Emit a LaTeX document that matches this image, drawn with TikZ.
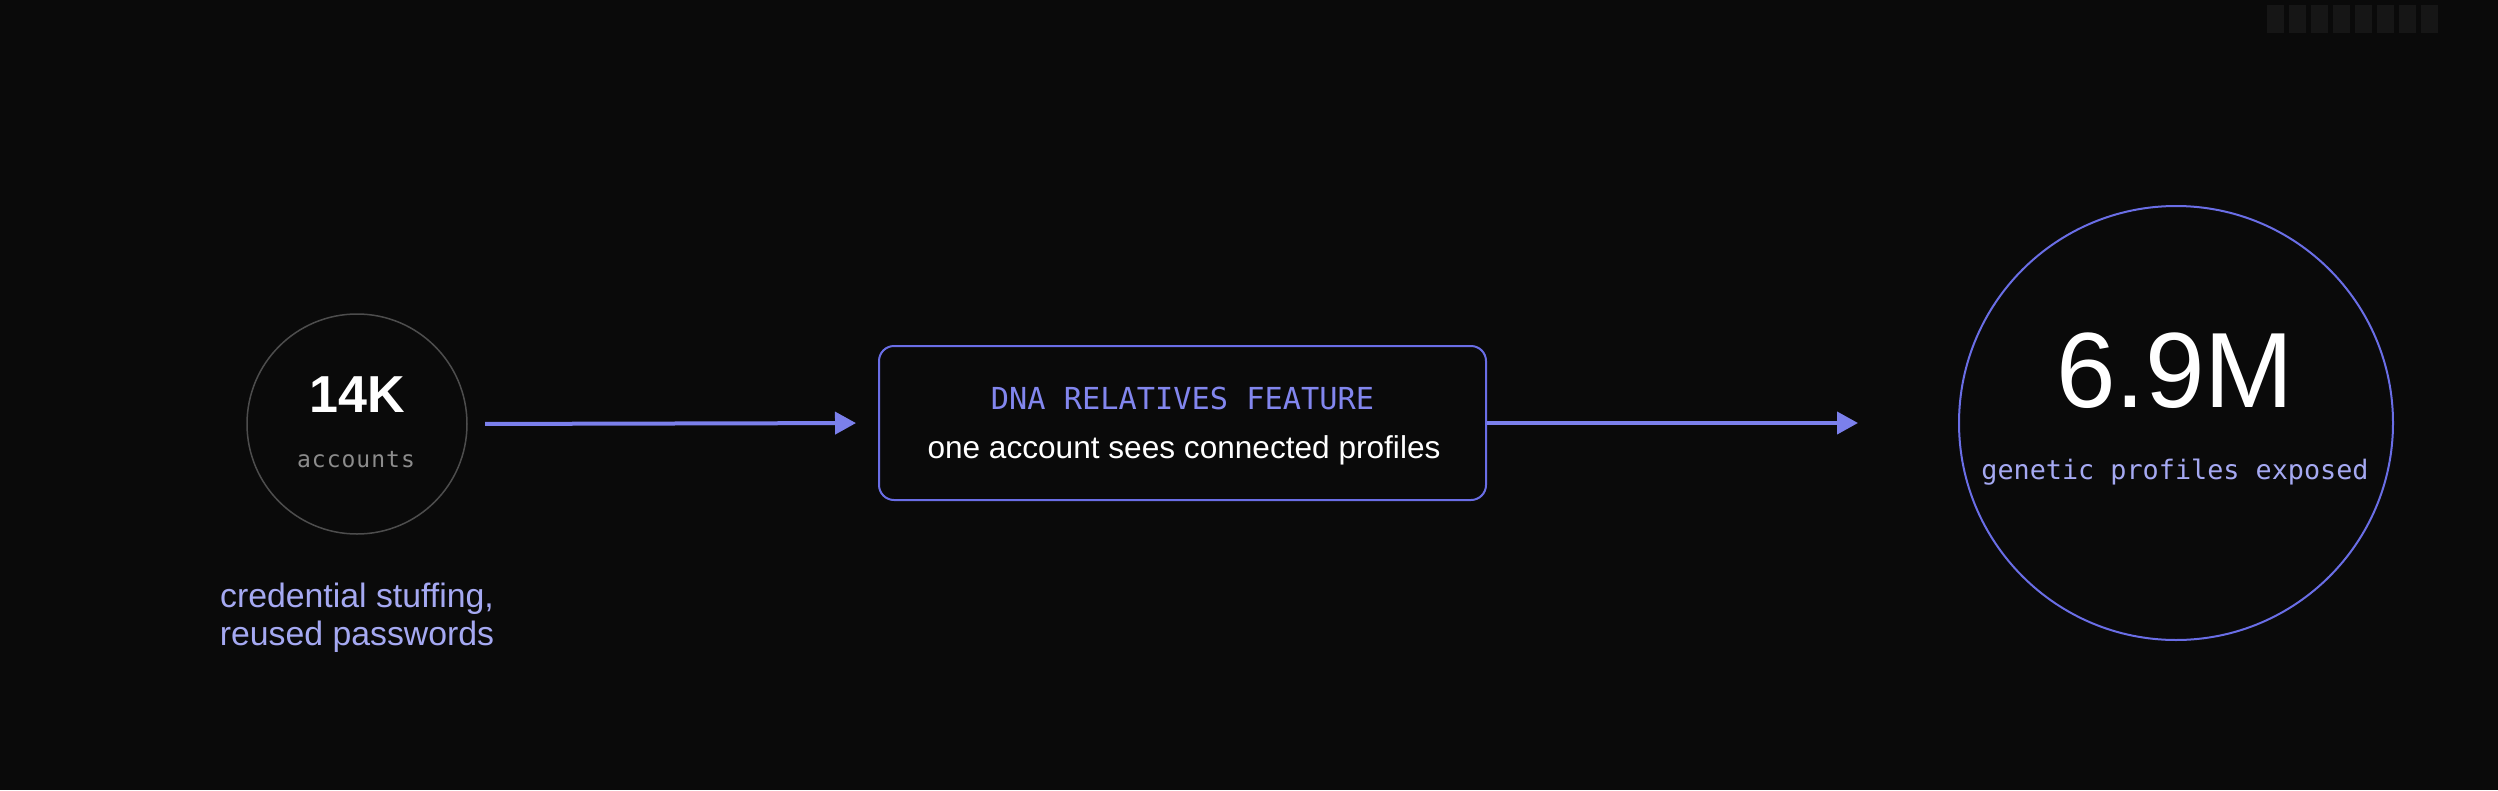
\documentclass[tikz,border=0pt]{standalone}
\usepackage{fontspec}
\setmainfont{Liberation Sans}
\newfontfamily\monof{DejaVu Sans Mono}
\usetikzlibrary{arrows.meta}
\definecolor{bg}{HTML}{0A0A0A}
\definecolor{ringgray}{HTML}{4D4D4D}
\definecolor{indigo}{HTML}{6A6EE6}
\definecolor{arrowc}{HTML}{7B80EC}
\definecolor{labelc}{HTML}{8286EE}
\definecolor{lav}{HTML}{A5A9F2}
\definecolor{dimtext}{HTML}{8C8C8C}
\definecolor{faint}{HTML}{161616}
\tikzset{
  txt/.style={anchor=base, inner sep=0pt, outer sep=0pt},
  ring/.style={circle, draw, inner sep=0pt, outer sep=0pt},
  flow/.style={draw=arrowc, line width=4pt, -{Triangle[length=21pt, width=22pt]}},
  fblock/.style={fill=faint, draw=none},
}
\begin{document}
\begin{tikzpicture}[x=1pt, y=-1pt]
\fill[bg] (0,0) rectangle (2498,790);
\useasboundingbox (0,0) rectangle (2498,790);

% faint marks top right
\foreach \i in {0,...,7} {
  \fill[fblock] (2267+\i*22,5) rectangle (2284+\i*22,33);
}

% left circle
\node[ring, draw=ringgray, line width=1.5pt, minimum size=220pt] (acc) at (357,424) {};
\node[txt, text=white, font=\bfseries\fontsize{52}{52}\selectfont] (n14k) at (357,412) {14K};
\node[txt, text=dimtext, font=\monof\fontsize{23}{23}\selectfont] (naccounts) at (356,467) {a\kern1pt c\kern1pt c\kern1pt o\kern1pt u\kern1pt n\kern1pt t\kern1pt s};
\node[txt, text=lav, font=\fontsize{33.8}{34}\selectfont] (cred1) at (357,607) {credential stuffing,};
\node[txt, text=lav, font=\fontsize{33.8}{34}\selectfont] (cred2) at (357,645) {reused passwords};

% middle box
\node[draw=indigo, line width=2pt, rounded corners=15pt, minimum width=607pt, minimum height=154pt, inner sep=0pt] (box) at (1182.5,423) {};
\node[txt, text=labelc, font=\monof\fontsize{30.3}{30}\selectfont] (dna) at (1182.5,409) {DNA RELATIVES FEATURE};
\node[txt, text=white, font=\fontsize{31.6}{32}\selectfont] (oneacc) at (1184,458) {one account sees connected profiles};

% right circle
\node[ring, draw=indigo, line width=2pt, minimum size=434pt] (prof) at (2176,423) {};
\node[txt, text=white, font=\fontsize{107}{107}\selectfont] (n69) at (2175,407) {6.9M};
\node[txt, text=lav, font=\monof\fontsize{26.8}{27}\selectfont] (gen) at (2175,479) {genetic profiles exposed};

% arrows
\draw[flow, shorten <=18pt, shorten >=22pt] (acc.east) -- (box.west);
\draw[flow, shorten >=101pt] (box.east) -- (prof.west);
\end{tikzpicture}
\end{document}
